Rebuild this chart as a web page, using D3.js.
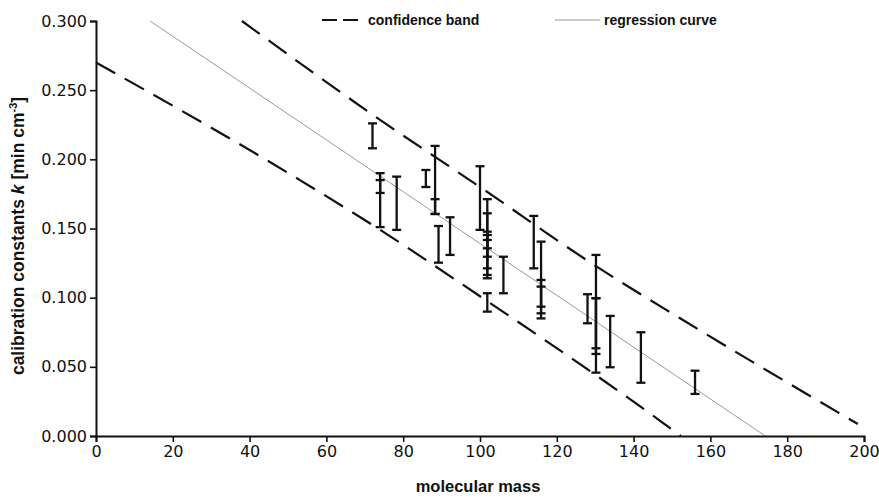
<!DOCTYPE html>
<html><head><meta charset="utf-8">
<script src="https://cdn.jsdelivr.net/npm/d3@7"></script>
<style>
body{margin:0;background:#fff;}
svg{display:block;}
text{font-family:"Liberation Sans",Arial,sans-serif;}
</style></head>
<body>
<svg id="c" width="879" height="498"></svg>
<script>
// ---- data ----
const xTicks = [0,20,40,60,80,100,120,140,160,180,200];
const yTicks = [0,0.05,0.1,0.15,0.2,0.25,0.3];
const yTickLabels = ["0.000","0.050","0.100","0.150","0.200","0.250","0.300"];

const barMass = [72,74,74,78.3,85.9,88.3,88.3,89.2,92.2,100,101.9,101.9,101.9,101.9,101.9,101.9,106.1,114,115.9,115.9,115.9,128,130.2,130.2,130.2,133.9,141.9,156];
const barLow  = [0.208,0.151,0.1757,0.149,0.180,0.1605,0.1605,0.1253,0.1309,0.149,0.114,0.1357,0.1164,0.1212,0.1296,0.0899,0.1032,0.1212,0.085,0.0887,0.0935,0.0815,0.0458,0.0593,0.0634,0.0497,0.0385,0.0304];
const barHigh = [0.226,0.190,0.185,0.1875,0.1923,0.2097,0.1712,0.1518,0.1581,0.195,0.1712,0.1610,0.1477,0.1453,0.1417,0.1032,0.1296,0.1591,0.1405,0.1128,0.108,0.1025,0.1309,0.0996,0.0996,0.0868,0.0750,0.0472];

const regMass = [14.1,174.3];
const regK    = [0.300,0.000];
const upperMass = [38,72.7,100,130.4,152.1,198.4];
const upperK    = [0.300,0.231,0.180,0.1224,0.0851,0.0087];
const lowerMass = [0,53.1,73.1,100,115.6,146.9,152.3];
const lowerK    = [0.270,0.185,0.1506,0.101,0.0718,0.011,0.000];

// ---- drawing ----
const svg = d3.select("#c");
const x = d3.scaleLinear().domain([0,200]).range([96,864]);
const y = d3.scaleLinear().domain([0,0.3]).range([436,21]);

const line = d3.line().x(d=>x(d[0])).y(d=>y(d[1]));
const curve = d3.line().x(d=>x(d[0])).y(d=>y(d[1])).curve(d3.curveMonotoneX);

// regression
svg.append("path").attr("d", line(d3.zip(regMass, regK)))
  .attr("fill","none").attr("stroke","#999").attr("stroke-width",1);
// bands
[[upperMass,upperK],[lowerMass,lowerK]].forEach(([m,k])=>{
  svg.append("path").attr("d", curve(d3.zip(m,k)))
    .attr("fill","none").attr("stroke","#111").attr("stroke-width",2.2)
    .attr("stroke-dasharray","22,11");
});

// error bars
const bars = barMass.map((m,i)=>({m, lo:barLow[i], hi:barHigh[i]}));
const g = svg.append("g").attr("stroke","#111").attr("stroke-width",2.3);
bars.forEach(b=>{
  g.append("line").attr("x1",x(b.m)).attr("x2",x(b.m)).attr("y1",y(b.lo)).attr("y2",y(b.hi));
  [b.lo,b.hi].forEach(v=>{
    g.append("line").attr("x1",x(b.m)-4.5).attr("x2",x(b.m)+4.5).attr("y1",y(v)).attr("y2",y(v));
  });
});

// axes
const xAxis = svg.append("g").attr("transform","translate(0,436)")
  .call(d3.axisBottom(x).tickValues(xTicks).tickSize(6).tickPadding(4).tickFormat(d3.format("d")));
const yAxis = svg.append("g").attr("transform","translate(96,0)")
  .call(d3.axisLeft(y).tickValues(yTicks).tickSize(6).tickPadding(3).tickFormat((d,i)=>yTickLabels[i]));
[xAxis,yAxis].forEach(a=>{
  a.select(".domain").attr("stroke","#111").attr("stroke-width",2);
  a.selectAll(".tick line").attr("stroke","#111").attr("stroke-width",1.6);
  a.selectAll(".tick text").attr("fill","#111").style("font-size","16px").style("font-family","DejaVu Sans, sans-serif");
});

// axis titles
svg.append("text").attr("x",478).attr("y",492).attr("text-anchor","middle")
  .style("font-size","16.5px").style("font-weight","bold").attr("fill","#111").text("molecular mass");
const yt = svg.append("text").attr("transform","translate(24,236) rotate(-90)").attr("text-anchor","middle")
  .style("font-size","17.5px").style("font-weight","bold").attr("fill","#111");
yt.append("tspan").text("calibration constants ");
yt.append("tspan").style("font-style","italic").text("k");
yt.append("tspan").text(" [min cm");
yt.append("tspan").attr("dy",-7).style("font-size","11px").text("-3");
yt.append("tspan").attr("dy",7).text("]");

// legend
const lg = svg.append("g");
lg.append("line").attr("x1",322).attr("x2",362).attr("y1",20).attr("y2",20)
  .attr("stroke","#111").attr("stroke-width",2).attr("stroke-dasharray","15,6");
lg.append("text").attr("x",368).attr("y",25).style("font-size","14px").style("font-weight","bold").attr("fill","#111").text("confidence band");
lg.append("line").attr("x1",555).attr("x2",600).attr("y1",20).attr("y2",20)
  .attr("stroke","#999").attr("stroke-width",1);
lg.append("text").attr("x",604).attr("y",25).style("font-size","14px").style("font-weight","bold").attr("fill","#111").text("regression curve");
</script>
</body></html>
